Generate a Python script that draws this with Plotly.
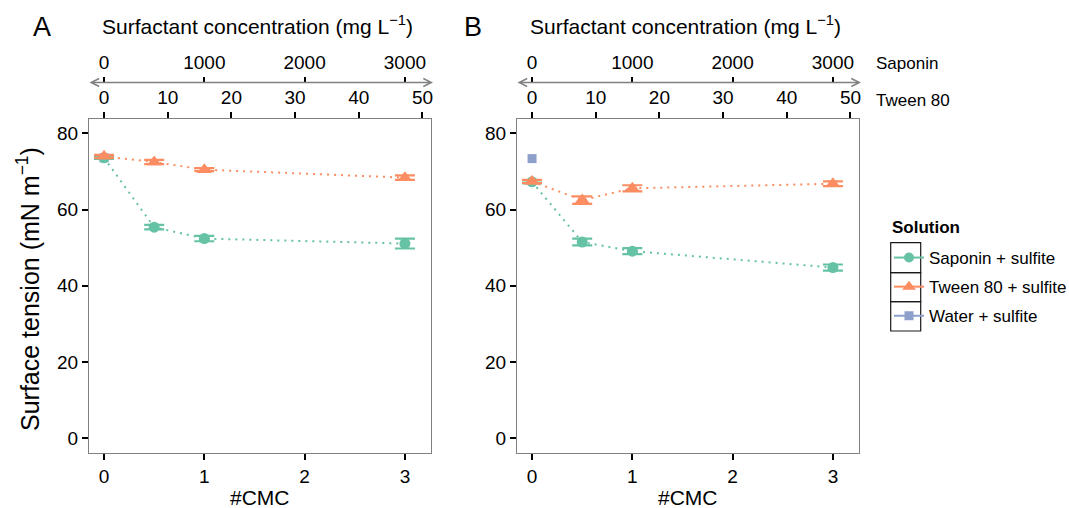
import plotly.graph_objects as go

# ---- data ----
cmc = [0, 0.5, 1, 3]
A_saponin = [73.6, 55.4, 52.4, 51.1]
A_saponin_err = [0.3, 0.6, 0.7, 1.3]
A_tween = [74.0, 72.5, 70.5, 68.4]
A_tween_err = [0.4, 0.55, 0.4, 0.6]
A_water = [73.6]
B_saponin = [67.3, 51.5, 49.1, 44.8]
B_saponin_err = [0.4, 0.9, 0.8, 0.8]
B_tween = [67.4, 62.5, 65.6, 66.8]
B_tween_err = [0.4, 1.0, 0.8, 0.6]
B_water = [73.4]
water_cmc = [0]

series_names = ["Saponin + sulfite", "Tween 80 + sulfite", "Water + sulfite"]
y_ticks = [0, 20, 40, 60, 80]
cmc_ticks = [0, 1, 2, 3]
tween_ticks = [0, 10, 20, 30, 40, 50]
saponin_ticks = [0, 1000, 2000, 3000]
tween_per_cmc = 15.75
saponin_per_cmc = 1000

GREEN = "#66c2a5"
ORANGE = "#fc8d62"
BLUE = "#8da0cb"
FONT = "Liberation Sans, Arial, sans-serif"

W, H = 1069, 508
def px(x):
    return x / W
def py(y):
    return 1 - y / H

domA = [px(89), px(431)]
domB = [px(517), px(859)]
ydom = [py(453), py(119)]
xr = [-0.15, 3.26]
yr = [-3.9, 83.8]

fig = go.Figure()

def add_series(xa, ya, x, y, err, color, symbol, size):
    fig.add_trace(go.Scatter(
        x=x, y=y, xaxis=xa, yaxis=ya, showlegend=False, mode="lines+markers",
        line=dict(color=color, width=2, dash="2px,5px"),
        marker=dict(color=color, symbol=symbol, size=size),
        error_y=dict(type="data", array=err, color=color, thickness=2.2, width=10),
    ))

fig.add_trace(go.Scatter(x=water_cmc, y=A_water, xaxis="x", yaxis="y", mode="markers",
                         marker=dict(color=BLUE, symbol="square", size=9), showlegend=False))
fig.add_trace(go.Scatter(x=water_cmc, y=B_water, xaxis="x2", yaxis="y2", mode="markers",
                         marker=dict(color=BLUE, symbol="square", size=9), showlegend=False))
add_series("x", "y", cmc, A_saponin, A_saponin_err, GREEN, "circle", 11)
add_series("x", "y", cmc, A_tween, A_tween_err, ORANGE, "triangle-up", 13)
add_series("x2", "y2", cmc, B_saponin, B_saponin_err, GREEN, "circle", 11)
add_series("x2", "y2", cmc, B_tween, B_tween_err, ORANGE, "triangle-up", 13)

# legend entries (solid key lines, as in the reference)
for name, color, symbol, size in zip(series_names, [GREEN, ORANGE, BLUE],
                                     ["circle", "triangle-up", "square"], [10, 12, 9]):
    fig.add_trace(go.Scatter(x=[None], y=[None], xaxis="x", yaxis="y", mode="lines+markers",
                             name=name, legendgroup=name,
                             line=dict(color=color, width=2),
                             marker=dict(color=color, symbol=symbol, size=size)))

tickfont = dict(family=FONT, size=19, color="#000")
common_x = dict(range=xr, tickvals=cmc_ticks, ticks="outside", ticklen=6, tickwidth=1.5,
                tickcolor="#000", showline=True, linecolor="#808080", linewidth=1.3,
                mirror=True, showgrid=False, zeroline=False, tickfont=tickfont,
                automargin=False)
common_y = dict(range=yr, tickvals=y_ticks, ticks="outside", ticklen=6, tickwidth=1.5,
                tickcolor="#000", showline=True, linecolor="#808080", linewidth=1.3,
                mirror=True, showgrid=False, zeroline=False, tickfont=tickfont, domain=ydom,
                automargin=False)

tween_ax = dict(range=[v * tween_per_cmc for v in xr], tickvals=tween_ticks, side="top",
                ticks="outside", ticklen=6, tickwidth=1.5, tickcolor="#000", showline=False,
                showgrid=False, zeroline=False, tickfont=tickfont, automargin=False)
sap_ax = dict(range=[v * saponin_per_cmc for v in xr], tickvals=saponin_ticks, side="top",
              ticks="outside", ticklen=6, tickwidth=1.5, tickcolor="#000", showline=False,
              showgrid=False, zeroline=False, tickfont=tickfont, anchor="free",
              position=py(82.5), automargin=False)

fig.update_layout(
    width=W, height=H, margin=dict(l=0, r=0, t=0, b=0, autoexpand=False),
    paper_bgcolor="white", plot_bgcolor="white",
    font=dict(family=FONT, color="#000"),
    xaxis=dict(domain=domA, anchor="y", **common_x),
    yaxis=dict(anchor="x", **common_y),
    xaxis2=dict(domain=domB, anchor="y2", **common_x),
    yaxis2=dict(anchor="x2", **common_y),
    xaxis3=dict(overlaying="x", anchor="y", **tween_ax),
    xaxis4=dict(overlaying="x", **sap_ax),
    xaxis5=dict(overlaying="x2", anchor="y2", **tween_ax),
    xaxis6=dict(overlaying="x2", **sap_ax),
    legend=dict(x=px(889), y=py(240), xanchor="left", yanchor="top",
                font=dict(family=FONT, size=17), tracegroupgap=4, itemwidth=30,
                bgcolor="rgba(0,0,0,0)"),
)

for xa, ya in [("x3", "y"), ("x4", "y"), ("x5", "y2"), ("x6", "y2")]:
    fig.add_trace(go.Scatter(x=[None], y=[None], xaxis=xa, yaxis=ya, showlegend=False))

ann = []
titlefont = dict(family=FONT, size=21, color="#000")
def text_ann(x, y, text, font, **kw):
    d = dict(x=px(x), y=py(y), xref="paper", yref="paper", showarrow=False,
             xanchor="center", yanchor="middle", text=text, font=font)
    d.update(kw)
    ann.append(d)

for cx in [(89 + 431) / 2, (517 + 859) / 2]:
    text_ann(cx - 3, 25, "Surfactant concentration (mg L<sup>\u22121</sup>)", titlefont)
    text_ann(cx, 497, "#CMC", titlefont)
text_ann(42, 27, "A", dict(family=FONT, size=27, color="#000"))
text_ann(473, 27, "B", dict(family=FONT, size=27, color="#000"))
text_ann(28, 289, "Surface tension (mN m<sup>\u22121</sup>)",
         dict(family=FONT, size=25, color="#000"), textangle=-90)
text_ann(874, 63, "Saponin", dict(family=FONT, size=17, color="#000"), xanchor="left")
text_ann(874, 101, "Tween 80", dict(family=FONT, size=17, color="#000"), xanchor="left")
text_ann(890, 227, "<b>Solution</b>", dict(family=FONT, size=17, color="#000"), xanchor="left")
for left, right in [(88, 433), (516, 861)]:
    ann.append(dict(x=px(right), y=py(82.5), xref="paper", yref="paper", ax=-(right - left), ay=0,
                    axref="pixel", ayref="pixel", showarrow=True, arrowside="end+start",
                    arrowhead=5, arrowsize=1.2, arrowwidth=1.3, arrowcolor="#808080",
                    text="", standoff=0, startstandoff=0))
fig.update_layout(annotations=ann)

shapes = []
for top, bot in [(242.7, 272.7), (272.7, 301.7), (301.7, 331.0)]:
    shapes.append(dict(type="rect", xref="paper", yref="paper", x0=px(890.7), x1=px(920.7),
                       y0=py(bot), y1=py(top), line=dict(color="#1a1a1a", width=1.2)))
fig.update_layout(shapes=shapes)

fig.write_html("out.html", config={"displayModeBar": False},
               post_script="document.body.style.margin='0';")
